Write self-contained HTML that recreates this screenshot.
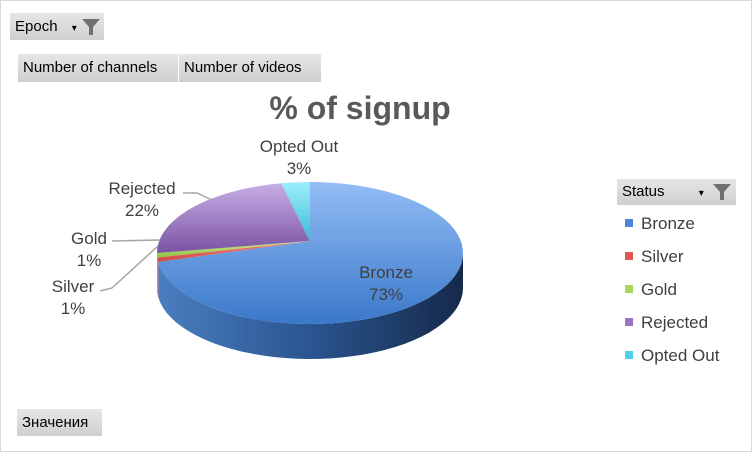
<!DOCTYPE html>
<html><head><meta charset="utf-8"><style>
body{margin:0;width:752px;height:452px;overflow:hidden;background:#fff;font-family:"Liberation Sans",sans-serif}
.frame{position:absolute;left:0;top:0;width:750px;height:450px;border:1px solid #d9d9d9}
.btn{position:absolute;background:linear-gradient(#e6e6e6,#cfcfcf);font-size:15px;color:#000;line-height:27px;padding-left:5px;box-sizing:border-box}
</style></head><body>
<div class="frame"></div>
<div class="btn" style="left:10px;top:13px;width:94px;height:27px">Epoch <span style="font-size:10px;margin-left:10px">▾</span><svg width="18" height="16" style="position:absolute;left:72px;top:6px"><path d="M0 0H18L11 8V16H7V8Z" fill="#707070"/></svg></div>
<div class="btn" style="left:18px;top:54px;width:160px;height:28px">Number of channels</div>
<div class="btn" style="left:179px;top:54px;width:142px;height:28px">Number of videos</div>
<div class="btn" style="left:17px;top:409px;width:85px;height:27px">Значения</div>
<div class="btn" style="left:617px;top:179px;width:119px;height:26px;line-height:25px">Status <span style="font-size:10px;margin-left:30px">▾</span><svg width="18" height="16" style="position:absolute;left:96px;top:5px"><path d="M0 0H18L11 8V16H7V8Z" fill="#707070"/></svg></div>
<svg id="c" width="752" height="452" style="position:absolute;left:0;top:0">
<defs>
<linearGradient id="side" x1="0" x2="1"><stop offset="0" stop-color="#4a7ec0"/><stop offset="0.5" stop-color="#2a5590"/><stop offset="1" stop-color="#16294a"/></linearGradient>
<linearGradient id="g0" x1="0" y1="0" x2="0" y2="1"><stop offset="0" stop-color="#93bdf5"/><stop offset="1" stop-color="#3a78c9"/></linearGradient>
<linearGradient id="g1" x1="0" y1="0" x2="0" y2="1"><stop offset="0" stop-color="#f08a86"/><stop offset="1" stop-color="#d04540"/></linearGradient>
<linearGradient id="g2" x1="0" y1="0" x2="0" y2="1"><stop offset="0" stop-color="#c9ea8a"/><stop offset="1" stop-color="#8fc240"/></linearGradient>
<linearGradient id="g3" x1="0" y1="0" x2="0" y2="1"><stop offset="0" stop-color="#c7aee6"/><stop offset="1" stop-color="#7a53a3"/></linearGradient>
<linearGradient id="g4" x1="0" y1="0" x2="0" y2="1"><stop offset="0" stop-color="#9eeefb"/><stop offset="1" stop-color="#3bbbd6"/></linearGradient>
</defs>
<text x="360" y="119" text-anchor="middle" font-size="32" font-weight="bold" fill="#595959">% of signup</text>
<g id="pie"></g>
<g id="legend"></g>
</svg>
<script>
const categories=["Bronze","Silver","Gold","Rejected","Opted Out"];
const values=[73,1,1,22,3];
const colors=["#4f86d6","#e05550","#a6d65a","#9a74c4","#4fd1ea"];
const cx=310,cy=253,rx=153,ry=71,depth=35,apexY=241;
const NS="http://www.w3.org/2000/svg";
const pie=document.getElementById('pie'),leg=document.getElementById('legend');
function pt(a,dy){return [cx+rx*Math.sin(a),cy-ry*Math.cos(a)+(dy||0)];}
const total=values.reduce((a,b)=>a+b,0);
let angs=[0];values.forEach(v=>angs.push(angs[angs.length-1]+v/total*2*Math.PI));
values.forEach((v,i)=>{
 let a0=Math.max(angs[i],Math.PI/2),a1=Math.min(angs[i+1],1.5*Math.PI);
 if(a1<=a0)return;
 let d='';const N=40;
 for(let k=0;k<=N;k++){const p=pt(a0+(a1-a0)*k/N);d+=(k?'L':'M')+p[0]+' '+p[1];}
 for(let k=N;k>=0;k--){const p=pt(a0+(a1-a0)*k/N,depth);d+='L'+p[0]+' '+p[1];}
 const e=document.createElementNS(NS,'path');e.setAttribute('d',d+'Z');
 e.setAttribute('fill',i==0?'url(#side)':colors[i]);
 
 
 pie.appendChild(e);
});
values.forEach((v,i)=>{
 const a0=angs[i],a1=angs[i+1];let d='M'+cx+' '+apexY;const N=60;
 for(let k=0;k<=N;k++){const p=pt(a0+(a1-a0)*k/N);d+='L'+p[0]+' '+p[1];}
 const e=document.createElementNS(NS,'path');e.setAttribute('d',d+'Z');
 e.setAttribute('fill','url(#g'+i+')');
 
 
 pie.appendChild(e);
});
[["M183 193L197 193L212 200"],["M112 241L160 240"],["M100 291L112 288L158 246"]].forEach((l,i)=>{
 const e=document.createElementNS(NS,'path');e.setAttribute('d',l[0]);e.setAttribute('stroke','#a6a6a6');e.setAttribute('stroke-width','1.5');e.setAttribute('fill','none');
 
 
 pie.appendChild(e);
});
const labelPos=[[386,278],[73,292],[89,244],[142,194],[299,152]];
values.forEach((v,i)=>{
 const t=document.createElementNS(NS,'text');t.setAttribute('x',labelPos[i][0]);t.setAttribute('y',labelPos[i][1]);
 t.setAttribute('text-anchor','middle');t.setAttribute('font-size','17');t.setAttribute('fill','#404040');
 t.innerHTML=categories[i]+'<tspan x="'+labelPos[i][0]+'" dy="22">'+v+'%</tspan>';
 
 
 pie.appendChild(t);
});
categories.forEach((c,i)=>{
 const g=document.createElementNS(NS,'g');
 
 
 const y=223+i*33;
 g.innerHTML='<rect x="625" y="'+(y-4)+'" width="8" height="8" fill="'+colors[i]+'"/><text x="641" y="'+(y+6)+'" font-size="17" fill="#404040">'+c+'</text>';
 leg.appendChild(g);
});
</script>
</body></html>
